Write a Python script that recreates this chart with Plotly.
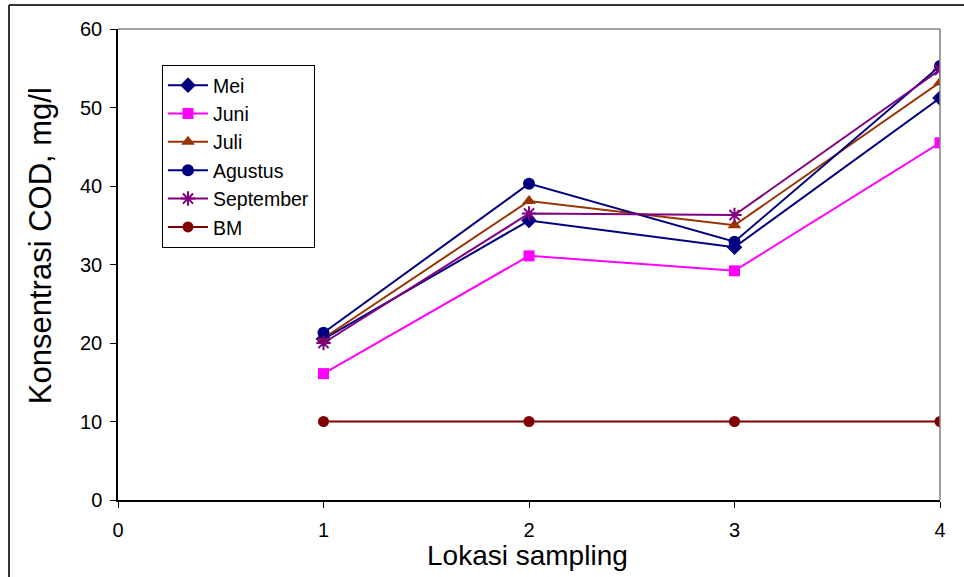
import plotly.graph_objects as go

lokasi = [1, 2, 3, 4]
mei = [20.5, 35.6, 32.2, 51.2]
juni = [16.1, 31.1, 29.2, 45.5]
juli = [20.6, 38.1, 35.0, 53.2]
agustus = [21.3, 40.3, 32.9, 55.3]
september = [20.0, 36.5, 36.3, 54.8]
bm = [10, 10, 10, 10]

x_title = "Lokasi sampling"
y_title = "Konsentrasi COD, mg/l"

series = [
    ("Mei", mei, "#000080", "diamond", 12),
    ("Juni", juni, "#FF00FF", "square", 11),
    ("Juli", juli, "#993300", "triangle-up", 12),
    ("Agustus", agustus, "#000080", "circle", 12),
    ("September", september, "#800080", "asterisk-open", 12),
    ("BM", bm, "#800000", "circle", 11),
]

fig = go.Figure()
for i, (name, vals, color, sym, size) in enumerate(series):
    fig.add_trace(go.Scatter(
        x=lokasi, y=vals, name=name, mode="lines+markers",
        legendgroup=f"g{i}",
        line=dict(color=color, width=2),
        marker=dict(symbol=sym, size=size, color=color,
                    line=dict(color=color, width=2 if "open" in sym else 0)),
    ))

fig.update_layout(
    width=964, height=577,
    margin=dict(l=118, r=24, t=29, b=77),
    plot_bgcolor="white", paper_bgcolor="white",
    font=dict(family="Liberation Sans, Arial, sans-serif", color="black"),
    showlegend=True,
    legend=dict(
        x=0.0535, y=0.9236, xanchor="left", yanchor="top",
        bordercolor="black", borderwidth=1, bgcolor="white",
        font=dict(size=19.5), tracegroupgap=0, itemwidth=40,
    ),
    xaxis=dict(
        range=[0, 4], tickmode="array", tickvals=[0, 1, 2, 3, 4],
        ticks="outside", ticklen=6, tickcolor="black",
        showline=True, linecolor="black", linewidth=2,
        showgrid=False, zeroline=False,
        tickfont=dict(size=20), ticklabelstandoff=5,
    ),
    yaxis=dict(
        range=[0, 60], tickmode="array", tickvals=[0, 10, 20, 30, 40, 50, 60],
        ticks="outside", ticklen=6, tickcolor="black",
        showline=True, linecolor="black", linewidth=1.5,
        showgrid=False, zeroline=False,
        tickfont=dict(size=20), ticklabelstandoff=4,
    ),
    annotations=[
        dict(text=x_title, xref="paper", yref="paper", x=0.4982, y=-0.1168,
             xanchor="center", yanchor="middle", showarrow=False,
             font=dict(size=28)),
        dict(text=y_title, xref="paper", yref="paper", x=-0.0949, y=0.541,
             xanchor="center", yanchor="middle", showarrow=False, textangle=-90,
             font=dict(size=31)),
    ],
    shapes=[
        dict(type="line", xref="paper", yref="paper", x0=0, x1=1, y0=1, y1=1,
             line=dict(color="#808080", width=1.5)),
        dict(type="line", xref="paper", yref="paper", x0=1, x1=1, y0=0, y1=1,
             line=dict(color="#808080", width=1.5)),
        dict(type="line", xref="paper", yref="paper", x0=-0.1326, x1=1.03, y0=1.051, y1=1.051,
             line=dict(color="#333333", width=2)),
        dict(type="line", xref="paper", yref="paper", x0=-0.1326, x1=-0.1326, y0=1.051, y1=-0.17,
             line=dict(color="#333333", width=2)),
    ],
)

fig.write_html("out.html")
